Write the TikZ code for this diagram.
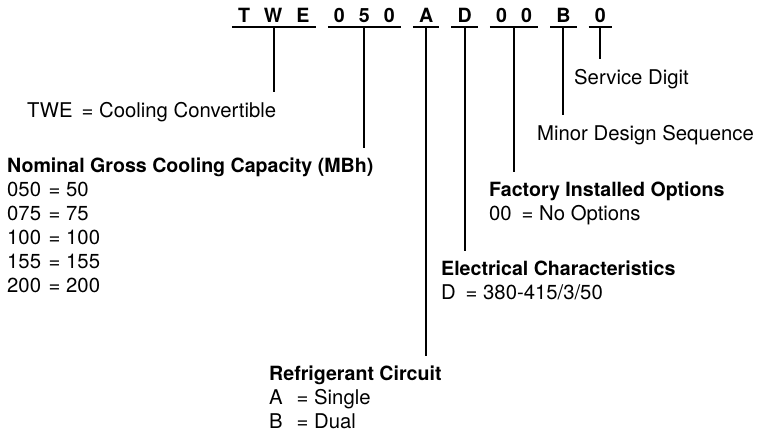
\documentclass[tikz,border=0pt]{standalone}
\usepackage{fontspec}
\setmainfont{TeX Gyre Heros}
\usetikzlibrary{positioning}
\newcommand{\keyeq}[3]{\makebox[#1][l]{#2}= #3}
\newcommand{\headline}[1]{{\fontsize{19.6}{24}\selectfont\bfseries #1}}

\begin{document}
\begin{tikzpicture}[
    x=1pt, y=-1pt,
    node distance=12pt,
    digits/.style={inner xsep=6pt, inner ysep=4pt, text height=14pt, text depth=0pt, font=\fontsize{19.6}{24}\selectfont\bfseries},
    desc/.style={anchor=north west, inner sep=0pt, align=left, font=\fontsize{20.3}{24}\selectfont},
    uline/.style={line width=1.3pt},
    lead/.style={line width=1.9pt, shorten >=10pt}
]
\useasboundingbox (0,0) rectangle (768,434);

% Model number
\node[digits, anchor=south] (gTWE) at (273.8,27) {T\hspace{14pt}W\hspace{14pt}E};
\node[digits, right=of gTWE] (gCap) {0\hspace{14pt}5\hspace{14pt}0};
\node[digits, right=of gCap] (gRef) {A};
\node[digits, right=of gRef] (gElec) {D};
\node[digits, right=of gElec] (gOpt) {0\hspace{14pt}0};
\node[digits, right=of gOpt] (gMinor) {B};
\node[digits, right=of gMinor] (gServ) {0};

% Underlines
\draw[uline] (gTWE.south west) -- (gTWE.south east);
\draw[uline] (gCap.south west) -- (gCap.south east);
\draw[uline] (gRef.south west) -- (gRef.south east);
\draw[uline] (gElec.south west) -- (gElec.south east);
\draw[uline] (gOpt.south west) -- (gOpt.south east);
\draw[uline] (gMinor.south west) -- (gMinor.south east);
\draw[uline] (gServ.south west) -- (gServ.south east);

% Descriptions
\node[desc] (dTWE) at (27,102) {\keyeq{54.5pt}{TWE}{Cooling Convertible}};
\node[desc] (dCap) at (7,158) {\headline{Nominal Gross Cooling Capacity (MBh)}\\
    \keyeq{41.5pt}{050}{50}\\
    \keyeq{41.5pt}{075}{75}\\
    \keyeq{41.5pt}{100}{100}\\
    \keyeq{41.5pt}{155}{155}\\
    \keyeq{41.5pt}{200}{200}};
\node[desc] (dRef) at (269,366) {\headline{Refrigerant Circuit}\\
    \keyeq{27.5pt}{A}{Single}\\
    \keyeq{27.5pt}{B}{Dual}};
\node[desc] (dElec) at (441,261) {\headline{Electrical Characteristics}\\
    \keyeq{24.5pt}{D}{380-415/3/50}};
\node[desc] (dOpt) at (489,182) {\headline{Factory Installed Options}\\
    \keyeq{32.5pt}{00}{No Options}};
\node[desc] (dMinor) at (537,125) {Minor Design Sequence};
\node[desc] (dServ) at (574,69) {Service Digit};

% Leader lines
\draw[lead] (gTWE.south) -- (gTWE.south |- dTWE.north);
\draw[lead] (gCap.south) -- (gCap.south |- dCap.north);
\draw[lead] (gRef.south) -- (gRef.south |- dRef.north);
\draw[lead] (gElec.south) -- (gElec.south |- dElec.north);
\draw[lead] (gOpt.south) -- (gOpt.south |- dOpt.north);
\draw[lead] (gMinor.south) -- (gMinor.south |- dMinor.north);
\draw[lead] (gServ.south) -- (gServ.south |- dServ.north);

\end{tikzpicture}
\end{document}
